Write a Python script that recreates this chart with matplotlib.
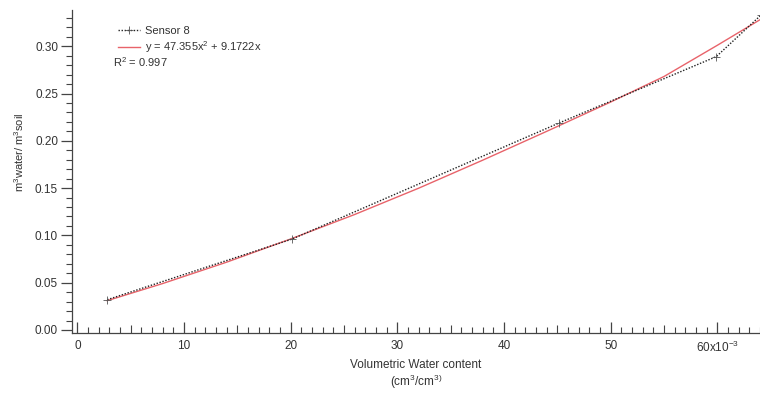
import matplotlib
matplotlib.use("Agg")
import matplotlib.pyplot as plt
from matplotlib.ticker import MultipleLocator, FixedLocator

plt.rcParams['font.family'] = ['Liberation Sans', 'DejaVu Sans']
plt.rcParams['mathtext.fontset'] = 'custom'
plt.rcParams['mathtext.rm'] = 'Liberation Sans'
plt.rcParams['mathtext.it'] = 'Liberation Sans:italic'
plt.rcParams['mathtext.bf'] = 'Liberation Sans:bold'

# Sensor 8 measurements (x in cm3/cm3)
sensor_x = [0.0028, 0.0201, 0.0452, 0.0599, 0.0641]
sensor_y = [0.032, 0.096, 0.219, 0.289, 0.333]

# Fitted curve
fit_x = [0.0028, 0.008, 0.014, 0.020, 0.026, 0.032, 0.038, 0.044, 0.050, 0.055, 0.060, 0.0641]
fit_y = [0.031, 0.0491, 0.0717, 0.0962, 0.1221, 0.1499, 0.1795, 0.2100, 0.2410, 0.2680, 0.3010, 0.3287]

x_tick_vals = [0, 0.01, 0.02, 0.03, 0.04, 0.05, 0.06]
x_tick_labels = ['0', '10', '20', '30', '40', '50', '60x10$^{-3}$']
y_tick_vals = [0.00, 0.05, 0.10, 0.15, 0.20, 0.25, 0.30]
y_tick_labels = ['0.00', '0.05', '0.10', '0.15', '0.20', '0.25', '0.30']

text_col = '#333333'
axis_col = '#444444'

fig = plt.figure(figsize=(7.6, 3.93), dpi=100)
ax = fig.add_axes([72/760, 60/393, 688/760, 323/393])

fit_line, = ax.plot(fit_x, fit_y, color='#e8636a', lw=1.0, zorder=2)
sens_line, = ax.plot(sensor_x, sensor_y, color='#222222', lw=1.0, ls=(0, (1, 1.2)),
                     marker='+', ms=6, mew=0.6, mec='#555555', zorder=3)

ax.set_xlim(-0.0005, 0.0640)
ax.set_ylim(-0.0032, 0.3383)

for s in ['top', 'right']:
    ax.spines[s].set_visible(False)
for s in ['left', 'bottom']:
    ax.spines[s].set_color(axis_col)
    ax.spines[s].set_linewidth(0.9)

ax.xaxis.set_major_locator(FixedLocator(x_tick_vals))
ax.set_xticklabels(x_tick_labels)
ax.xaxis.set_minor_locator(FixedLocator([i/1000 for i in range(0, 65) if i % 10 != 0]))
ax.yaxis.set_major_locator(FixedLocator(y_tick_vals))
ax.set_yticklabels(y_tick_labels)
ax.yaxis.set_minor_locator(MultipleLocator(0.01))

ax.tick_params(axis='x', which='major', direction='in', length=8, width=0.9,
               color=axis_col, labelsize=8.5, labelcolor=text_col, pad=5)
ax.tick_params(axis='x', which='minor', direction='in', length=4, width=0.8,
               color=axis_col)
ax.tick_params(axis='y', which='major', direction='out', length=8, width=0.9,
               color=axis_col, labelsize=8.5, labelcolor=text_col, pad=2)
ax.tick_params(axis='y', which='minor', direction='out', length=4.5, width=0.8,
               color=axis_col)

for t, loc in zip(ax.xaxis.get_minor_ticks(), ax.xaxis.get_minorticklocs()):
    if round(loc * 1000) % 5 == 0:
        t.tick1line.set_markersize(6)

ax.set_xlabel('Volumetric Water content\n(cm$^3$/cm$^{3)}$', fontsize=8.5,
              color=text_col, labelpad=3, linespacing=1.1)
ax.set_ylabel('m$^3$water/ m$^3$soil', fontsize=8, color=text_col)
ax.yaxis.set_label_coords(-0.067, 0.56)

leg = ax.legend([sens_line, fit_line], ['Sensor 8', 'y = 47.355x$^2$ + 9.1722x'],
                loc='upper left', bbox_to_anchor=(0.055, 0.975), frameon=False,
                fontsize=8, handlelength=2.0, handletextpad=0.5,
                labelspacing=0.3, borderaxespad=0.3)
for t in leg.get_texts():
    t.set_color(text_col)
fig.text(113/760, 1 - 62/393, 'R$^2$ = 0.997', fontsize=8, color=text_col,
         va='center', ha='left')

fig.savefig('out.png', dpi=100)
